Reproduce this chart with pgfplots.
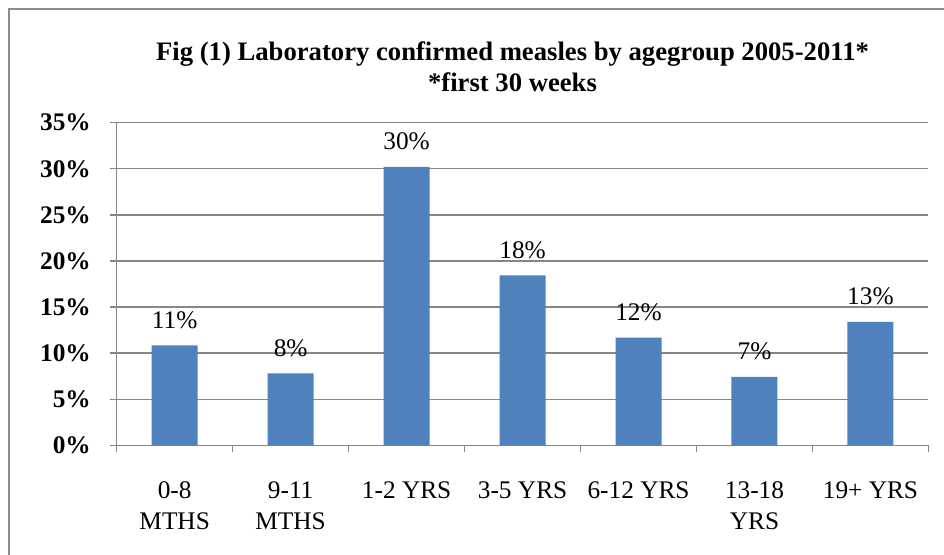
\documentclass[border=0pt]{standalone}
\usepackage{fontspec}
\setmainfont{Liberation Serif}
\usepackage{pgfplots}
\pgfplotsset{compat=1.18}
\definecolor{barblue}{HTML}{4F81BD}
\definecolor{gridgray}{HTML}{868686}
\definecolor{framegray}{HTML}{8C8C8C}
\begin{document}
\begin{tikzpicture}[x=0.75pt,y=0.75pt]
\useasboundingbox (0,0) rectangle (944,555);
\fill[white] (0,0) rectangle (944,555);
\draw[framegray, line width=1.5pt] (9,-10) -- (9,546) -- (960,546);
\node[font=\fontsize{20}{24}\selectfont\bfseries, anchor=base, inner sep=0pt] at (512.5,494) {Fig (1) Laboratory confirmed measles by agegroup 2005-2011*};
\node[font=\fontsize{20}{24}\selectfont\bfseries, anchor=base, inner sep=0pt] at (512.5,463) {*first 30 weeks};
\begin{axis}[
  at={(87.525pt,82.275pt)}, anchor=south west,
  scale only axis, width=608.8pt, height=241.95pt,
  xmin=-0.5, xmax=6.5, ymin=0, ymax=35,
  axis x line*=bottom, axis y line*=left,
  axis line style={gridgray, line width=1pt, -},
  tick align=outside, major tick length=5.25pt,
  tick style={gridgray, line width=1pt},
  ytick={0,5,...,35},
  yticklabels={0\%,5\%,10\%,15\%,20\%,25\%,30\%,35\%},
  yticklabel style={font=\fontsize{19}{23}\selectfont\bfseries, anchor=east, inner sep=0pt, xshift=-14pt},
  ymajorgrids, grid style={gridgray, line width=1pt},
  xtick={-0.5,0.5,...,6.5}, xticklabels={},
  extra x ticks={0,1,2,3,4,5,6},
  extra x tick labels={{0-8\\MTHS},{9-11\\MTHS},{1-2 YRS},{3-5 YRS},{6-12 YRS},{13-18\\YRS},{19+ YRS}},
  extra x tick style={tick style={draw=none}, grid=none},
  xticklabel style={font=\fontsize{19}{23}\selectfont, align=center, anchor=north, inner sep=0pt, yshift=-21.75pt},
  /pgf/number format/assume math mode=true,
  nodes near coords={\pgfmathprintnumber[fixed,precision=0]{\pgfplotspointmeta}\%},
  every node near coord/.append style={font=\fontsize{19}{23}\selectfont, anchor=base, inner sep=0pt, yshift=12.75pt, black},
  clip=false,
]
\addplot[ybar, bar width=34.5pt, fill=barblue, draw=none] coordinates {
  (0,10.85) (1,7.81) (2,30.2) (3,18.44) (4,11.67) (5,7.41) (6,13.4)
};
\end{axis}
\end{tikzpicture}
\end{document}
